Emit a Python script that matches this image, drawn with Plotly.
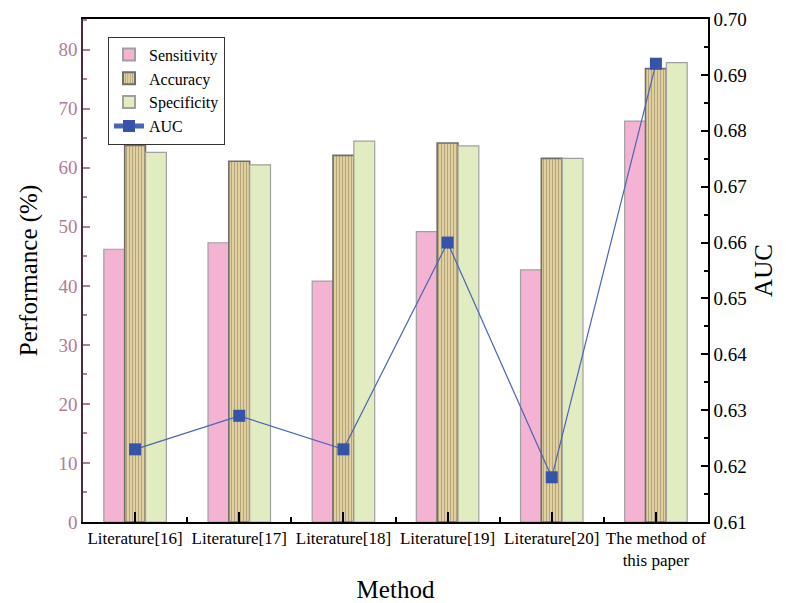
import plotly.graph_objects as go

methods = ["Literature[16]", "Literature[17]", "Literature[18]", "Literature[19]", "Literature[20]", "The method of<br>this paper"]
sensitivity = [46.2, 47.3, 40.8, 49.2, 42.7, 67.9]
accuracy = [63.8, 61.1, 62.1, 64.2, 61.6, 76.8]
specificity = [62.6, 60.5, 64.5, 63.7, 61.6, 77.8]
auc = [0.623, 0.629, 0.623, 0.660, 0.618, 0.692]

xpos = list(range(len(methods)))
serif = "Liberation Serif"
mauve = "#b27a9c"

fig = go.Figure()
fig.add_trace(go.Bar(name="Sensitivity", x=xpos, y=sensitivity,
                     marker=dict(color="#f5b3d3", line=dict(color="#a0a0a0", width=1.2))))
fig.add_trace(go.Bar(name="Accuracy", x=xpos, y=accuracy,
                     marker=dict(color="#d6c28e", line=dict(color="#6e6e6e", width=1.6),
                                 pattern=dict(shape="|", fgcolor="#8b7a55", bgcolor="#e0cf9f",
                                              size=3, solidity=0.35))))
fig.add_trace(go.Bar(name="Specificity", x=xpos, y=specificity,
                     marker=dict(color="#e2ecc1", line=dict(color="#a0a0a0", width=1.2))))
fig.add_trace(go.Scatter(name="AUC", x=xpos, y=auc, yaxis="y2", mode="lines+markers",
                         line=dict(color="#4a64b8", width=1.2),
                         marker=dict(symbol="square", size=12, color="#3553a8")))

fig.update_layout(
    width=778, height=595,
    margin=dict(l=75, r=78, t=11, b=81),
    paper_bgcolor="white", plot_bgcolor="white",
    barmode="group", bargap=0.4, bargroupgap=0,
    font=dict(family=serif, color="black"),
    showlegend=True,
    legend=dict(x=0.04, y=0.965, xanchor="left", yanchor="top",
                bordercolor="#333333", borderwidth=1, bgcolor="white",
                font=dict(family=serif, size=16), tracegroupgap=0,
                itemsizing="constant"),
    xaxis=dict(range=[-0.5, 5.5], tickmode="array", tickvals=xpos, ticktext=methods,
               automargin=False,
               ticks="inside", ticklen=10, tickwidth=1.5, tickcolor="black",
               showline=True, linecolor="black", linewidth=1.5, mirror=True,
               showgrid=False, zeroline=False,
               tickfont=dict(family=serif, size=17, color="black"),
               minor=dict(tickvals=[0.5, 1.5, 2.5, 3.5, 4.5], ticks="inside", ticklen=5,
                          tickcolor="black", tickwidth=1.5, showgrid=False),
               title=dict(text="Method", font=dict(family=serif, size=25), standoff=14)),
    yaxis=dict(range=[0, 85.2], tickmode="linear", tick0=0, dtick=10,
               automargin=False,
               ticks="inside", ticklen=7, tickwidth=1.5, tickcolor=mauve,
               showline=True, linecolor="#4a2a3c", linewidth=1.5,
               showgrid=False, zeroline=False,
               tickfont=dict(family=serif, size=19, color=mauve),
               minor=dict(dtick=5, ticks="inside", ticklen=4, tickcolor=mauve, tickwidth=1.5, showgrid=False),
               title=dict(text="Performance (%)", font=dict(family=serif, size=25), standoff=14)),
    yaxis2=dict(range=[0.61, 0.70], overlaying="y", side="right", tickmode="linear", tick0=0.61, dtick=0.01,
                automargin=False,
                tickformat=".2f", ticks="inside", ticklen=7, tickwidth=1.5, tickcolor="black",
                showline=True, linecolor="black", linewidth=1.5,
                showgrid=False, zeroline=False,
                tickfont=dict(family=serif, size=19, color="black"),
                minor=dict(dtick=0.005, ticks="inside", ticklen=4, tickcolor="black", tickwidth=1.5, showgrid=False),
                title=dict(text="AUC", font=dict(family=serif, size=25), standoff=8)),
)

fig.write_html("out.html")
